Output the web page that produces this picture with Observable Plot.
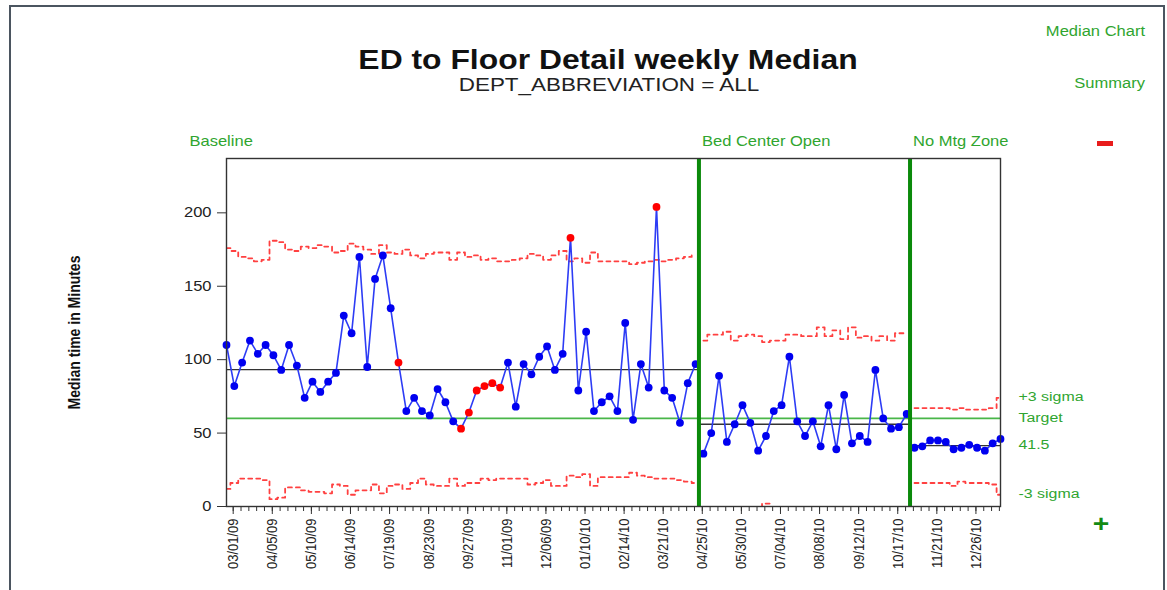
<!DOCTYPE html>
<html>
<head>
<meta charset="utf-8">
<script src="https://cdn.jsdelivr.net/npm/d3@7"></script>
<script src="https://cdn.jsdelivr.net/npm/@observablehq/plot@0.6"></script>
<style>
  body { margin: 0; background: #fff; font-family: "Liberation Sans", Arial, sans-serif; }
  #wrap { position: relative; width: 1167px; height: 590px; overflow: hidden; background: #fff; }
  #chart { position: absolute; left: 0; top: 0; }
  #border { position: absolute; left: 9px; top: 5px; width: 1156px; height: 640px; box-sizing: border-box; border: 2.5px solid #4b5560; }
  .t { position: absolute; white-space: nowrap; line-height: 1; }
  .green { color: #2fa52f; }
</style>
</head>
<body>
<div id="wrap">
  <div id="chart"></div>
  <div id="border"></div>
  <div class="t" id="title" style="left:608px;top:47px;font-size:27px;font-weight:bold;color:#111;transform:translateX(-50%) scaleX(1.18);">ED to Floor Detail weekly Median</div>
  <div class="t" id="subtitle" style="left:609px;top:75px;font-size:19px;color:#222;transform:translateX(-50%) scaleX(1.18);">DEPT_ABBREVIATION = ALL</div>
  <div class="t green" style="right:22px;top:24px;font-size:14px;transform-origin:right center;transform:scaleX(1.18);">Median Chart</div>
  <div class="t green" style="right:22px;top:76px;font-size:14px;transform-origin:right center;transform:scaleX(1.18);">Summary</div>
  <div style="position:absolute;left:1097px;top:141px;width:16px;height:5px;background:#e81c1c;"></div>
  <div class="t" style="left:1101px;top:512px;font-size:24px;font-weight:bold;color:#138a13;transform:translateX(-50%) scaleX(1.18);">+</div>
</div>
<script>
// ---- data ----
const firstWeek = "02/23/09";
const values = [
  // Baseline
  110, 82, 98, 113, 104, 110, 103, 93, 110, 96, 74, 85, 78, 85, 91, 130, 118, 170, 95, 155,
  171, 135, 98, 65, 74, 65, 62, 80, 71, 58, 53, 64, 79, 82, 84, 81, 98, 68, 97, 90,
  102, 109, 93, 104, 183, 79, 119, 65, 71, 75, 65, 125, 59, 97, 81, 204, 79, 74, 57, 84, 97,
  // Bed Center Open
  36, 50, 89, 44, 56, 69, 57, 38, 48, 65, 69, 102, 58, 48, 58, 41, 69, 39, 76, 43,
  48, 44, 93, 60, 53, 54, 63,
  // No Mtg Zone
  40, 41, 45, 45, 44, 39, 40, 42, 40, 38, 43, 46
];
const ucl = [
  176, 174, 170, 169, 167, 168, 181, 180, 175, 174, 177, 176, 178, 177, 173, 174, 179, 177, 175, 172,
  178, 173, 172, 175, 171, 169, 172, 173, 173, 168, 173, 170, 171, 168, 169, 167, 167, 168, 169, 172,
  171, 168, 171, 174, 167, 169, 166, 173, 167, 167, 167, 167, 165, 166, 167, 168, 167, 168, 169, 170, 171,
  113, 117, 117, 119, 113, 116, 117, 116, 112, 113, 113, 117, 117, 116, 116, 122, 116, 120, 114, 122,
  115, 116, 113, 116, 113, 118, 118,
  67, 67, 67, 67, 67, 66, 67, 66, 66, 66, 67, 74
];
const lcl = [
  12, 16, 19, 19, 19, 18, 5, 6, 13, 13, 11, 10, 10, 9, 15, 14, 8, 11, 11, 15,
  9, 14, 15, 12, 16, 19, 15, 14, 14, 19, 14, 16, 16, 19, 18, 19, 19, 19, 19, 15,
  16, 18, 14, 14, 21, 20, 22, 14, 20, 20, 20, 20, 23, 21, 20, 19, 19, 19, 18, 17, 16,
  -1, -5, -5, -7, -1, -4, -5, -4, 2, -1, -1, -5, -5, -4, -4, -10, -4, -8, -2, -10,
  -3, -4, -1, -4, -1, -6, -6,
  16, 16, 16, 16, 16, 14, 17, 16, 16, 16, 15, 8
];
const flagged = [22, 30, 31, 32, 33, 34, 35, 44, 55];
const phaseNames = ["Baseline", "Bed Center Open", "No Mtg Zone"];
const phaseStarts = ["02/23/09", "04/22/10", "10/28/10"];
const phaseMedians = [93.2, 56, 41.5];
const target = 60;
const tickLabels = ["03/01/09", "04/05/09", "05/10/09", "06/14/09", "07/19/09", "08/23/09", "09/27/09",
  "11/01/09", "12/06/09", "01/10/10", "02/14/10", "03/21/10", "04/25/10", "05/30/10", "07/04/10",
  "08/08/10", "09/12/10", "10/17/10", "11/21/10", "12/26/10"];
const yTicks = [0, 50, 100, 150, 200];
const yLabel = "Median time in Minutes";
const sideLabels = ["+3 sigma", "Target", String(phaseMedians[2]), "-3 sigma"];

// ---- build tables ----
const parse = d3.utcParse("%m/%d/%y");
const fmt = d3.utcFormat("%m/%d/%y");
const start = parse(firstWeek);
const starts = phaseStarts.map(parse);
const rows = values.map((v, i) => {
  const date = d3.utcDay.offset(start, 7 * i);
  let phase = 0;
  starts.forEach((s, k) => { if (date >= s) phase = k; });
  return { i, date, value: v, ucl: ucl[i], lcl: lcl[i], phase, flag: flagged.includes(i) };
});
const endDate = rows[rows.length - 1].date;
const phaseRows = phaseNames.map((name, k) => ({
  name, start: starts[k], end: k < starts.length - 1 ? starts[k + 1] : endDate, median: phaseMedians[k]
}));
const majorTicks = tickLabels.map(parse);
const minorTicks = d3.utcWeek.range(start, d3.utcDay.offset(endDate, 1));
const last = rows[rows.length - 1];
const sideRows = [
  { text: sideLabels[0], y: last.ucl },
  { text: sideLabels[1], y: target },
  { text: sideLabels[2], y: phaseMedians[2] },
  { text: sideLabels[3], y: last.lcl }
];

const GREEN_TXT = "#2fa52f";
const plot = Plot.plot({
  width: 1167,
  height: 590,
  marginLeft: 226,
  marginRight: 167,
  marginTop: 158,
  marginBottom: 84,
  style: { fontFamily: "'Liberation Sans', Arial, sans-serif", fontSize: "14px", color: "#222", background: "transparent", overflow: "visible" },
  x: { type: "utc", domain: [start, endDate] },
  y: { domain: [0, 237] },
  marks: [
    Plot.ruleY([target], { stroke: "#49b649", strokeWidth: 1.6 }),
    Plot.ruleY(phaseRows, { y: "median", x1: "start", x2: "end", stroke: "#333", strokeWidth: 1.3 }),
    Plot.line(rows, { x: "date", y: "ucl", z: "phase", curve: "step", stroke: "#ff4040", strokeWidth: 1.8, strokeDasharray: "4,4", clip: true }),
    Plot.line(rows, { x: "date", y: "lcl", z: "phase", curve: "step", stroke: "#ff4040", strokeWidth: 1.8, strokeDasharray: "4,4", clip: true }),
    Plot.line(rows, { x: "date", y: "value", z: "phase", stroke: "#2d3cf5", strokeWidth: 1.6 }),
    Plot.dot(rows, { x: "date", y: "value", r: 3.9, fill: d => d.flag ? "#ff0000" : "#0000f0", stroke: "none" }),
    Plot.ruleX(phaseRows.slice(1), { x: "start", stroke: "#0b8a0b", strokeWidth: 4 }),
    Plot.frame({ stroke: "#333", strokeWidth: 1.4 }),
    Plot.axisY({ ticks: yTicks, tickSize: 9, tickPadding: 6, label: null, fontSize: 14, stroke: "#333" }),
    Plot.axisX({ ticks: minorTicks, tickSize: 5, tickFormat: () => "", label: null, stroke: "#333" }),
    Plot.axisX({ ticks: majorTicks, tickSize: 8, tickPadding: 4, tickRotate: -90, tickFormat: fmt, label: null, fontSize: 13, stroke: "#333" }),
    Plot.text(phaseRows.slice(0, 1), { x: "start", text: "name", frameAnchor: "top", textAnchor: "start", dx: -37, dy: -22, fill: GREEN_TXT, fontSize: 14 }),
    Plot.text(phaseRows.slice(1), { x: "start", text: "name", frameAnchor: "top", textAnchor: "start", dx: 3, dy: -22, fill: GREEN_TXT, fontSize: 14 }),
    Plot.text(sideRows, { x: () => endDate, y: "y", text: "text", textAnchor: "start", dx: 18, dy: -1, fill: GREEN_TXT, fontSize: 13.5 }),
    Plot.text([yLabel], { frameAnchor: "left", textAnchor: "middle", dx: -152, rotate: -90, fontWeight: "bold", fontSize: 14, fill: "#111" })
  ]
});

// emulate the horizontally stretched look of the original rendering
plot.querySelectorAll("text").forEach(t => {
  const tr = t.getAttribute("transform") || "";
  if (!tr.includes("translate")) return;
  t.setAttribute("transform", tr + (tr.includes("rotate") ? " scale(1,1.18)" : " scale(1.18,1)"));
});

document.getElementById("chart").appendChild(plot);
</script>
</body>
</html>
